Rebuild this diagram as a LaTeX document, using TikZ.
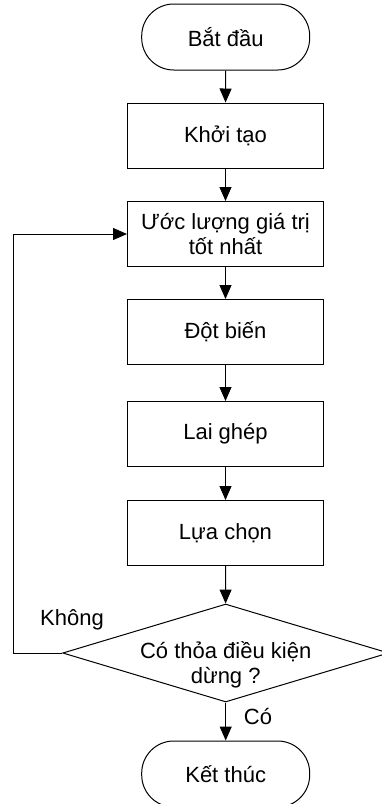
\documentclass[tikz,border=0pt]{standalone}
\usepackage{fontspec}
\setmainfont{Liberation Sans}
\usetikzlibrary{arrows.meta,shapes.geometric}

\begin{document}
\begin{tikzpicture}[x=1pt,y=-1pt,
  font=\fontsize{22}{25}\selectfont,
  terminal/.style={draw,line width=1pt,rounded corners=32pt,minimum width=168pt,minimum height=66pt,inner sep=0pt},
  process/.style={draw,line width=1pt,minimum width=196pt,minimum height=65pt,inner sep=0pt,align=center},
  decision/.style={draw,line width=1pt,diamond,minimum width=326pt,minimum height=98pt,inner sep=0pt},
  flow/.style={line width=1pt,-{Triangle[length=14pt,width=12pt]}},
  lbl/.style={inner sep=0pt}]
\path[use as bounding box] (0,0) rectangle (381,804);
\path[fill=white,draw=none] (0,0) rectangle (381,804);
% start / end
\node[terminal] (start) at (225.7,37) {Bắt đầu};
\node[terminal] (stop) at (225.7,774) {Kết thúc};
% steps
\node[process] (init) at (225.5,135.5) {Khởi tạo};
\node[process] (eval) at (225.5,234) {Ước lượng giá trị\\tốt nhất};
\node[process] (mutate) at (225.5,332) {Đột biến};
\node[process] (cross) at (225.5,434) {Lai ghép};
\node[process] (select) at (225.5,533) {Lựa chọn};
% test
\node[decision] (check) at (225.7,653) {};
\node[lbl,align=center] (checktxt) at (225.7,665) {Có thỏa điều kiện\\dừng ?};
\coordinate (back) at (13,653);
\coordinate (backtop) at (13,234);
% arrows
\draw[flow] (start) -- (init);
\draw[flow] (init) -- (eval);
\draw[flow] (eval) -- (mutate);
\draw[flow] (mutate) -- (cross);
\draw[flow] (cross) -- (select);
\draw[flow] (select) -- (check);
\draw[flow] (check) -- (stop);
\draw[flow] (check.west) -- (back) -- (backtop) -- (eval.west);
\node[lbl] (no) at (72,620) {Không};
\node[lbl] (yes) at (258,716) {Có};
\end{tikzpicture}
\end{document}
